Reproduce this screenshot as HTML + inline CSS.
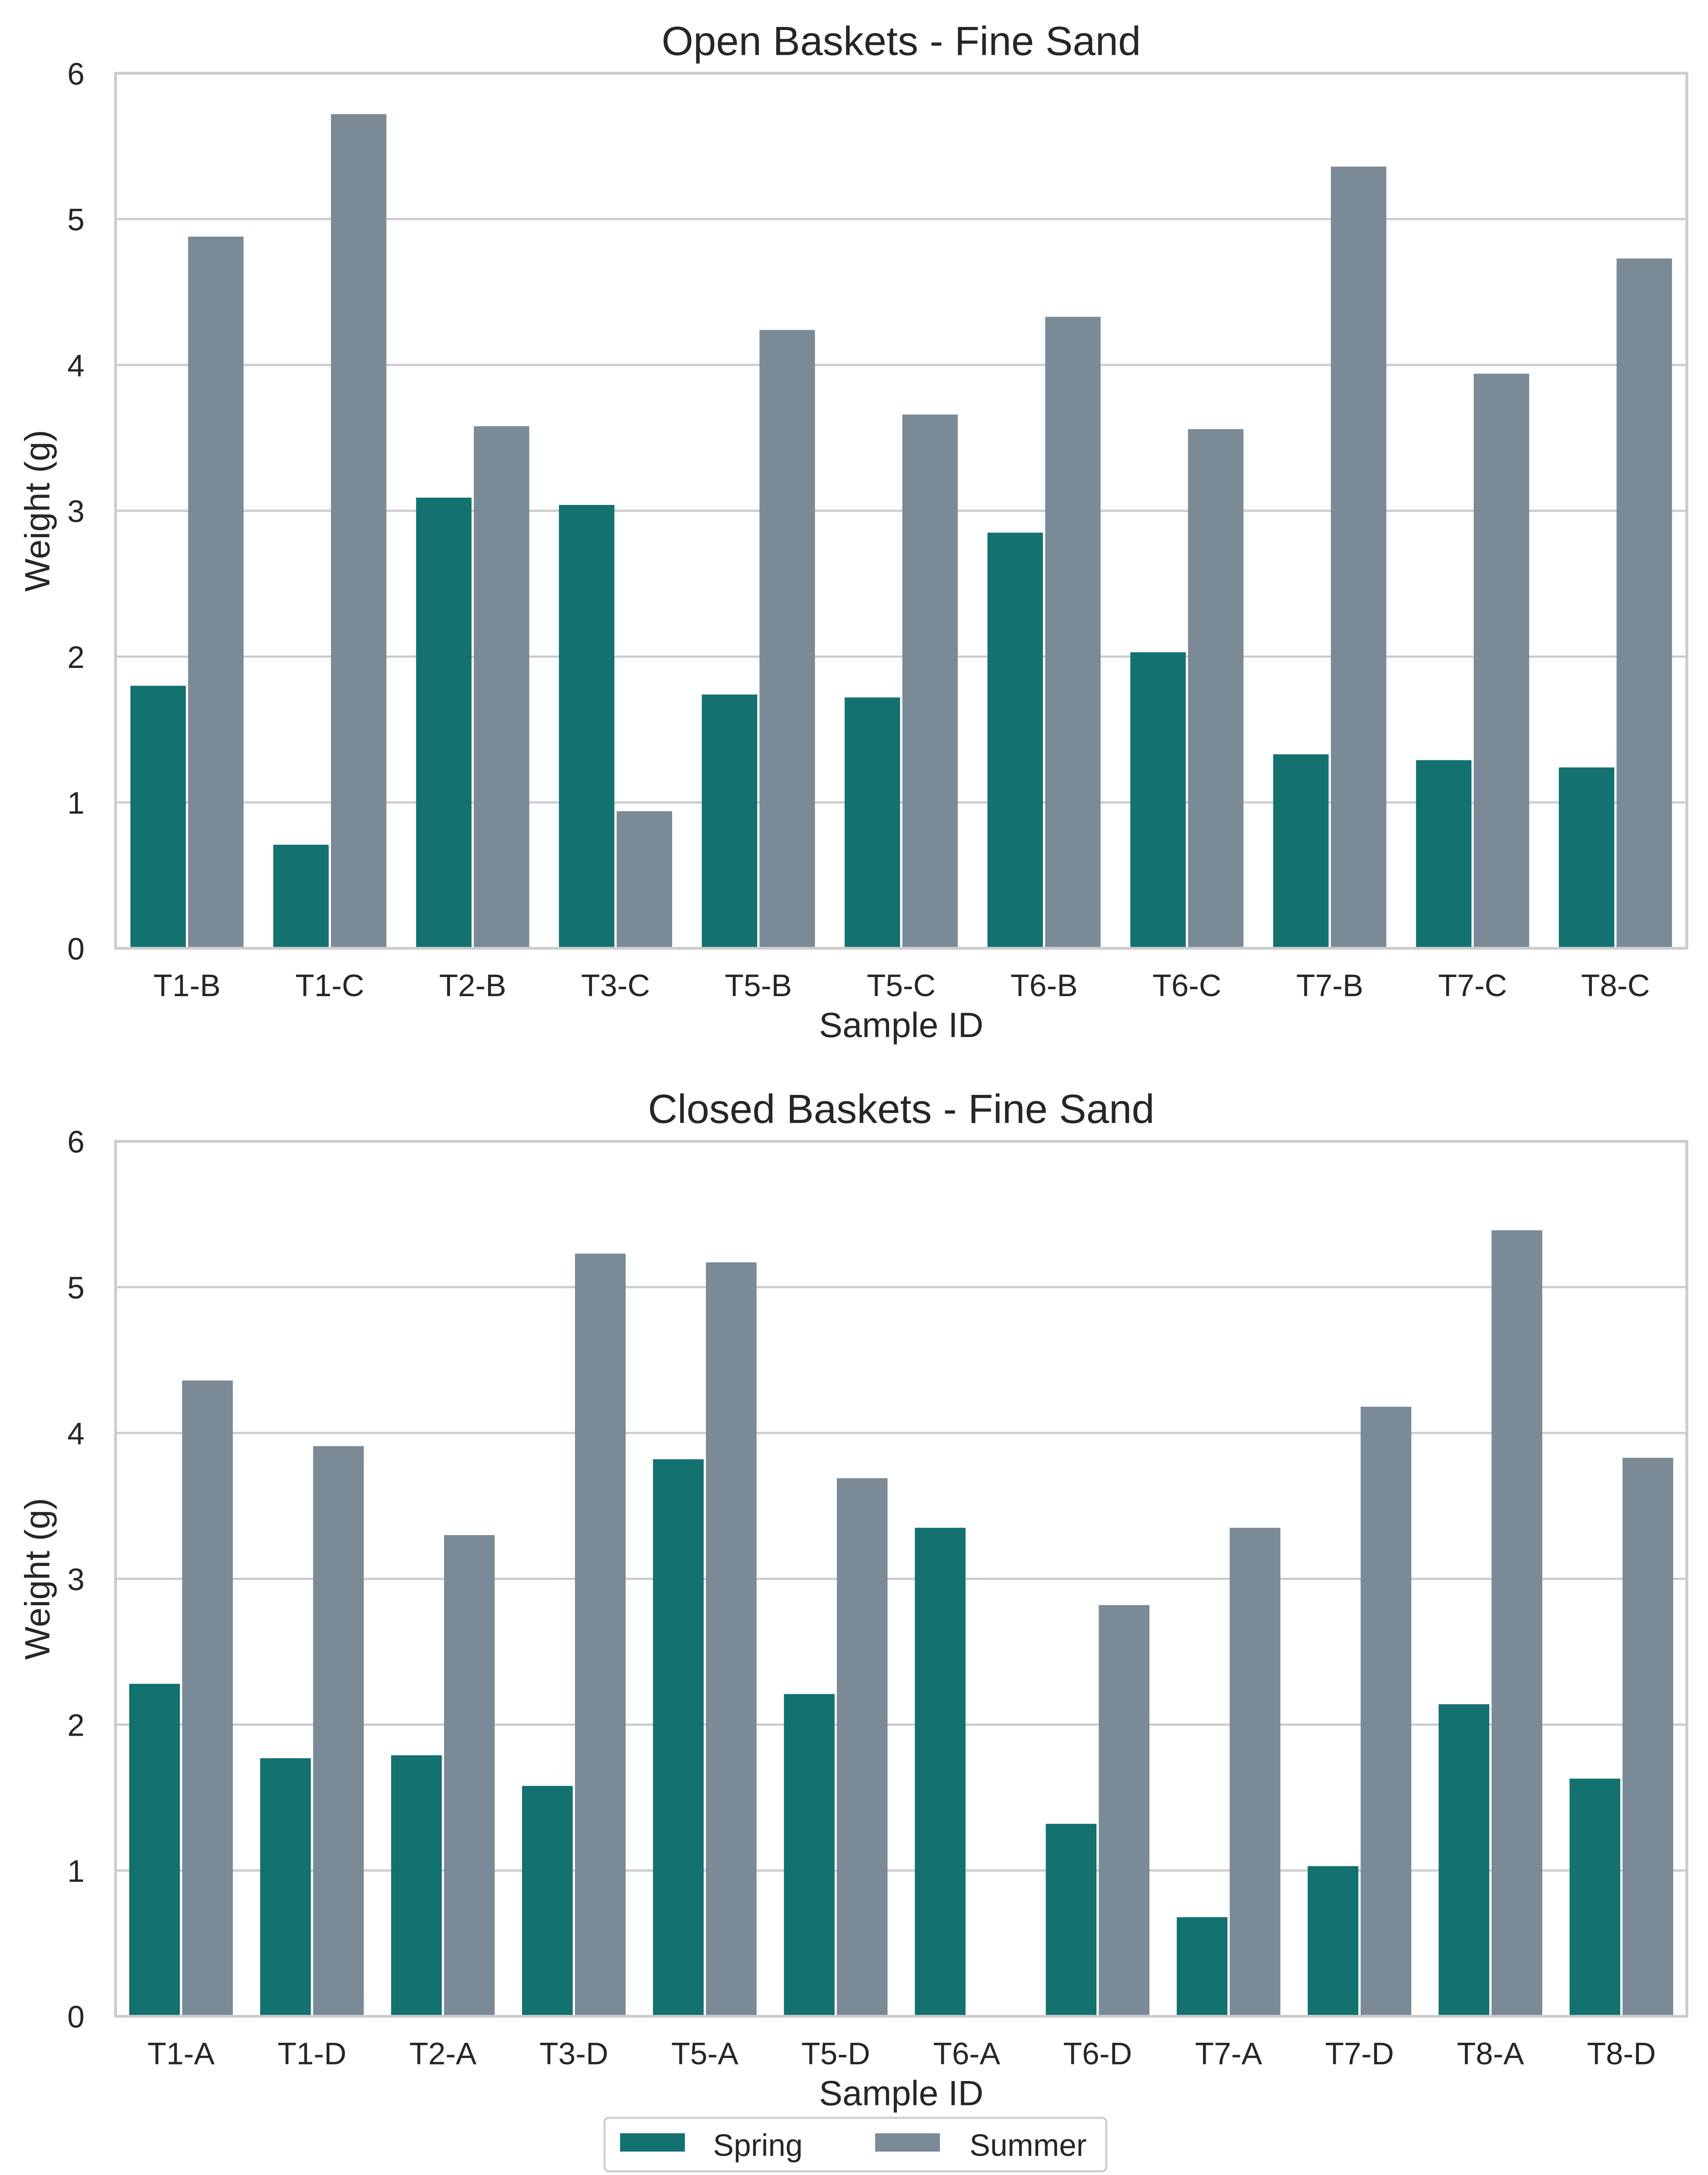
<!DOCTYPE html>
<html><head><meta charset="utf-8"><style>
html,body{margin:0;padding:0;background:#fff;overflow:hidden;width:3927px;height:5079px;}
svg{display:block;font-family:"Liberation Sans","DejaVu Sans",sans-serif;}
</style></head><body>
<svg id="chart" width="3927" height="5079" viewBox="0 0 1212 1568" preserveAspectRatio="none" xmlns="http://www.w3.org/2000/svg"></svg>
<script>
const openCats = ["T1-B","T1-C","T2-B","T3-C","T5-B","T5-C","T6-B","T6-C","T7-B","T7-C","T8-C"];
const openSpring = [1.80,0.71,3.09,3.04,1.74,1.72,2.85,2.03,1.33,1.29,1.24];
const openSummer = [4.88,5.72,3.58,0.94,4.24,3.66,4.33,3.56,5.36,3.94,4.73];
const closedCats = ["T1-A","T1-D","T2-A","T3-D","T5-A","T5-D","T6-A","T6-D","T7-A","T7-D","T8-A","T8-D"];
const closedSpring = [2.28,1.77,1.79,1.58,3.82,2.21,3.35,1.32,0.68,1.03,2.14,1.63];
const closedSummer = [4.36,3.91,3.30,5.23,5.17,3.69,null,2.82,3.35,4.18,5.39,3.83];
const yTicks = [0,1,2,3,4,5,6];
const seriesNames = ["Spring","Summer"];

const svg = document.getElementById('chart');
const NS = "http://www.w3.org/2000/svg";
const SPRING = "#137170", SUMMER = "#7b8a97";
function mk(tag, attrs, parent){const e=document.createElementNS(NS,tag);for(const k in attrs)e.setAttribute(k,attrs[k]);(parent||svg).appendChild(e);return e;}

function panel(key, title, cats, spring, summer, top, bottom){
  const L=82, R=1197, yMax=6;
  const g = mk('g',{});
  
  
  const y = v => bottom - v/yMax*(bottom-top);
  const bw = (R-L)/cats.length;
  const x = i => L + i*bw;
  yTicks.forEach(t=>{
    const ln = mk('line',{x1:L,x2:R,y1:y(t),y2:y(t),stroke:"#cccccc","stroke-width":1.6},g);
    
    
    const tx = mk('text',{x:L-22,y:y(t)+8,"text-anchor":"end","font-size":22,fill:"#262626"},g);
    tx.textContent = t;
    
    
  });
  cats.forEach((c,i)=>{
    const w = bw*0.4;
    const cx = x(i)+bw/2;
    [[spring[i],SPRING,0],[summer[i],SUMMER,1]].forEach(([v,col,j])=>{
      if(v===null||v===undefined) return;
      const r = mk('rect',{x:cx-w+j*w+(j?0.8:0.4), y:y(v), width:w-1.2, height:bottom-y(v), fill:col},g);
      
      
    });
    const t = mk('text',{x:cx,y:bottom+34,"text-anchor":"middle","font-size":22,fill:"#262626"},g);
    t.textContent = c;
    
    
  });
  const fr = mk('rect',{x:L,y:top,width:R-L,height:bottom-top,fill:"none",stroke:"#cccccc","stroke-width":2},g);
  
  
  const tt = mk('text',{x:(L+R)/2,y:top-13,"text-anchor":"middle","font-size":29,fill:"#262626"},g);
  tt.textContent = title;
  
  
  const xl = mk('text',{x:(L+R)/2,y:bottom+63,"text-anchor":"middle","font-size":25,fill:"#262626"},g);
  xl.textContent = "Sample ID";
  
  
  const yl = mk('text',{x:0,y:0,"text-anchor":"middle","font-size":25,fill:"#262626",transform:`translate(35,${(top+bottom)/2}) rotate(-90)`},g);
  yl.textContent = "Weight (g)";
  
  
}
panel('open',"Open Baskets - Fine Sand",openCats,openSpring,openSummer,52,673);
panel('closed',"Closed Baskets - Fine Sand",closedCats,closedSpring,closedSummer,810,1431);

const lg = mk('g',{});


mk('rect',{x:429,y:1503,width:356,height:38,rx:3,fill:"#fff",stroke:"#d0d0d0","stroke-width":1.6},lg);
[[SPRING,440,506,"Spring"],[SUMMER,621,688,"Summer"]].forEach(([c,px,tx,n])=>{
  const e = mk('g',{},lg);
  
  
  mk('rect',{x:px,y:1514,width:46,height:13,fill:c},e);
  const t = mk('text',{x:tx,y:1530,"font-size":22,fill:"#262626"},e);
  t.textContent = n;
});
</script>
</body></html>
